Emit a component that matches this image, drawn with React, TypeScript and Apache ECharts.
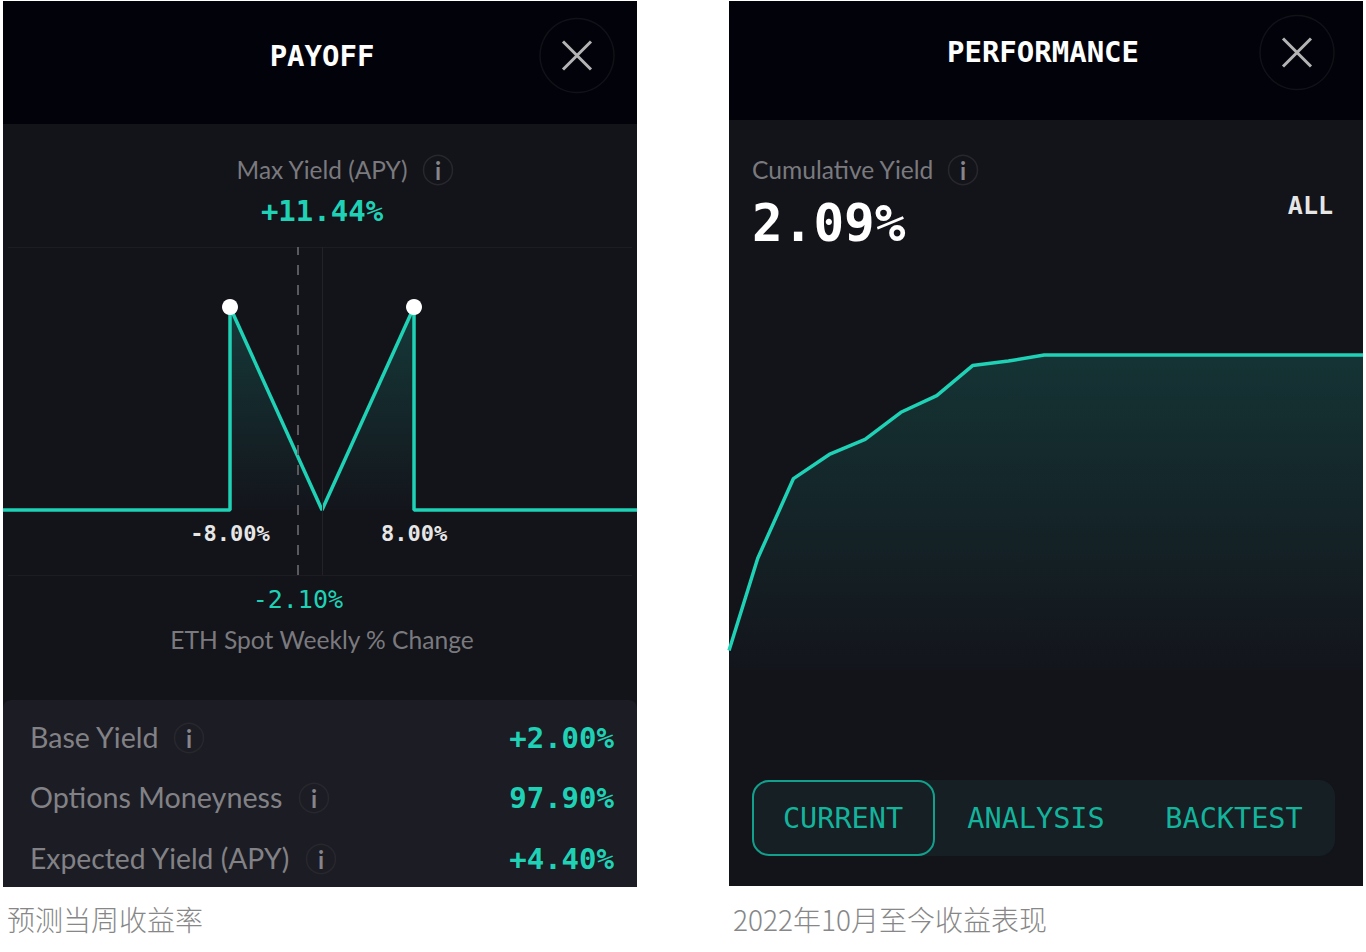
import React, { useEffect, useRef } from "react";
import * as echarts from "echarts";

// ---- data ----
const payoffX = [-27.74, -8, -8, 0, 8, 8, 27.39];
const payoffY = [0, 0, 11.44, 0, 11.44, 0, 0];
const payoffDots = [[-8, 11.44], [8, 11.44]];
const spotChange = -2.1;
const strikeTicks = [-8, 8];
const yieldWeeks = [0, 0.8, 1.8, 2.8, 3.8, 4.8, 5.8, 6.8, 7.8, 8.8, 9.8, 10.8, 11.8, 12.8, 13.8, 14.8, 15.8, 16.8, 17.7];
const yieldValues = [0.13, 0.74, 1.27, 1.43, 1.53, 1.71, 1.82, 2.02, 2.05, 2.09, 2.09, 2.09, 2.09, 2.09, 2.09, 2.09, 2.09, 2.09, 2.09];
const rowLabels = ["Base Yield", "Options Moneyness", "Expected Yield (APY)"];
const rowValues = ["+2.00%", "97.90%", "+4.40%"];
const tabLabels = ["CURRENT", "ANALYSIS", "BACKTEST"];

// ---- style ----
const TEAL = "#1fd2b6";
const TAB = "#14b39c";
const GRAY = "#7a7a7e";
const MONO = "'DejaVu Sans Mono', monospace";
const SANS = "Lato, sans-serif";
const CJK = "'Noto Sans CJK SC', sans-serif";

const txt = (text: string, x: number, y: number, fontSize: number, fill: string, fontFamily: string, opts: any = {}) => ({
  type: "text",
  x,
  y,
  scaleX: opts.scaleX ?? 1,
  style: {
    text,
    fontSize,
    fill,
    fontFamily,
    fontWeight: opts.weight ?? "normal",
    align: opts.align ?? "left",
    verticalAlign: "middle",
  },
});

const rect = (x: number, y: number, w: number, h: number, fill: string, r: any = 0, stroke?: string) => ({
  type: "rect",
  shape: { x, y, width: w, height: h, r },
  style: { fill, stroke: stroke ?? "none", lineWidth: stroke ? 2 : 0 },
});

const hline = (x1: number, x2: number, y: number) => ({
  type: "line",
  shape: { x1, y1: y, x2, y2: y },
  style: { stroke: "#1c1c22", lineWidth: 1 },
});

const info = (x: number, y: number) => [
  { type: "circle", shape: { cx: x, cy: y, r: 14.5 }, style: { fill: "none", stroke: "#27272d", lineWidth: 1.5 } },
  txt("i", x, y, 24, "#85858a", SANS, { align: "center", weight: "bold" }),
];

const closeBtn = (x: number, y: number) => [
  { type: "circle", shape: { cx: x, cy: y, r: 37 }, style: { fill: "none", stroke: "#111117", lineWidth: 1.5 } },
  { type: "line", shape: { x1: x - 14, y1: y - 14, x2: x + 14, y2: y + 14 }, style: { stroke: "#b4b4b4", lineWidth: 3 } },
  { type: "line", shape: { x1: x + 14, y1: y - 14, x2: x - 14, y2: y + 14 }, style: { stroke: "#b4b4b4", lineWidth: 3 } },
];

const rowYs = [736.5, 796.5, 857.5];
const rowIconYs = [738, 798, 859];
const rowInfoXs = [189, 314, 321];
const rowScales = [0.985, 0.99, 0.975];
const tabXs = [843, 1036, 1234];

const graphicElements = [
  // left card
  rect(3, 1, 634, 886, "#13131a"),
  rect(3, 1, 634, 123, "#02020a"),
  rect(3, 700, 634, 187, "#1c1c24", [8, 8, 0, 0]),
  hline(8, 632, 247.5),
  hline(8, 632, 575.5),
  // right card
  rect(729, 1, 634, 885, "#13131a"),
  rect(729, 1, 634, 119, "#02020a"),
  ...closeBtn(577, 55.5),
  ...closeBtn(1297, 52.5),
  txt("PAYOFF", 322, 56, 29, "#ffffff", MONO, { align: "center", weight: "bold" }),
  txt("PERFORMANCE", 1043, 52, 29, "#ffffff", MONO, { align: "center", weight: "bold" }),
  txt("Max Yield (APY)", 322, 169.5, 25, GRAY, SANS, { align: "center", scaleX: 0.977 }),
  ...info(438, 170),
  txt("+11.44%", 322, 211, 29, TEAL, MONO, { align: "center", weight: "bold" }),
  txt("ETH Spot Weekly % Change", 322, 639.5, 25, GRAY, SANS, { align: "center", scaleX: 0.984 }),
  ...rowLabels.flatMap((label, i) => [
    txt(label, 30, rowYs[i], 29, "#828286", SANS, { scaleX: rowScales[i] }),
    ...info(rowInfoXs[i], rowIconYs[i]),
    txt(rowValues[i], 614, rowIconYs[i], 29, TEAL, MONO, { align: "right", weight: "bold" }),
  ]),
  txt("Cumulative Yield", 752, 169.5, 25, GRAY, SANS, { scaleX: 0.984 }),
  ...info(963, 170),
  txt("2.09%", 752, 223, 51, "#ffffff", MONO, { weight: "bold" }),
  txt("ALL", 1333, 205, 25, "#e6e6e6", MONO, { align: "right", weight: "bold" }),
  rect(752, 780, 583, 76, "#161f24", 16),
  rect(753, 781, 181, 74, "#161f24", 16, "#12a08c"),
  ...tabLabels.map((label, i) => txt(label, tabXs[i], 818, 28.5, TAB, MONO, { align: "center" })),
  txt("预测当周收益率", 7, 919, 28, "#878787", CJK, { weight: 300 }),
  txt("2022年10月至今收益表现", 733, 919, 28, "#878787", CJK, { weight: 300 }),
];

const areaFill = (top: number) => ({
  opacity: 1,
  color: new echarts.graphic.LinearGradient(0, 0, 0, 1, [
    { offset: 0, color: `rgba(31,210,182,${top})` },
    { offset: 1, color: "rgba(31,210,182,0.01)" },
  ]),
});

const option: any = {
  animation: false,
  graphic: { elements: graphicElements },
  grid: [
    { left: 3, top: 247, width: 634, height: 328 },
    { left: 729, top: 270, width: 634, height: 400 },
  ],
  xAxis: [
    {
      type: "value",
      gridIndex: 0,
      min: -27.74,
      max: 27.39,
      offset: -65,
      splitLine: { show: false },
      axisLine: { show: false, onZero: false },
      axisTick: { show: false },
      axisLabel: {
        customValues: strikeTicks,
        formatter: (v: number) => `${v.toFixed(2)}%`,
        color: "#e6e6e6",
        fontFamily: MONO,
        fontSize: 22,
        fontWeight: "bold",
        margin: 12,
      },
    },
    { type: "value", gridIndex: 1, min: 0, max: 17.7, show: false },
  ],
  yAxis: [
    { type: "value", gridIndex: 0, min: -3.66, max: 14.82, show: false },
    { type: "value", gridIndex: 1, min: 0, max: 2.654, show: false },
  ],
  series: [
    {
      type: "line",
      name: "Payoff",
      xAxisIndex: 0,
      yAxisIndex: 0,
      data: payoffX.map((x, i) => [x, payoffY[i]]),
      showSymbol: false,
      lineStyle: { color: TEAL, width: 3.5 },
      areaStyle: areaFill(0.2),
      markLine: {
        silent: true,
        symbol: "none",
        data: [
          {
            xAxis: spotChange,
            lineStyle: { color: "#5a5a5e", type: [10, 10], width: 2 },
            label: {
              show: true,
              position: "start",
              distance: 12,
              formatter: `${spotChange.toFixed(2)}%`,
              color: TEAL,
              fontFamily: MONO,
              fontSize: 25,
            },
          },
          { xAxis: 0, lineStyle: { color: "#222228", type: "solid", width: 1 }, label: { show: false } },
        ],
      },
    },
    {
      type: "scatter",
      name: "Max yield",
      xAxisIndex: 0,
      yAxisIndex: 0,
      data: payoffDots,
      symbolSize: 16,
      itemStyle: { color: "#ffffff", opacity: 1 },
      z: 3,
    },
    {
      type: "line",
      name: "Cumulative Yield",
      xAxisIndex: 1,
      yAxisIndex: 1,
      data: yieldWeeks.map((x, i) => [x, yieldValues[i]]),
      showSymbol: false,
      lineStyle: { color: TEAL, width: 3.5 },
      areaStyle: areaFill(0.17),
    },
  ],
};

export default function App() {
  const ref = useRef<HTMLDivElement>(null);
  useEffect(() => {
    document.body.style.margin = "0";
    const chart = echarts.init(ref.current!, null, { renderer: "svg" });
    chart.setOption(option);
    return () => chart.dispose();
  }, []);
  return <div ref={ref} style={{ width: 1366, height: 952, background: "#ffffff" }} />;
}
